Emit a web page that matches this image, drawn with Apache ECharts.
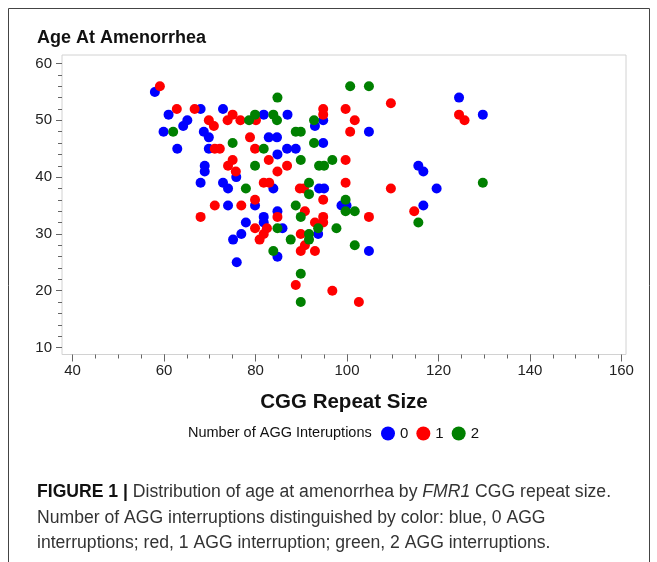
<!DOCTYPE html>
<html>
<head>
<meta charset="utf-8">
<script src="https://cdn.jsdelivr.net/npm/echarts@6/dist/echarts.min.js"></script>
<style>
html,body{margin:0;padding:0;background:#fff;}
#chart{width:657px;height:562px;}
</style>
</head>
<body>
<div id="chart"></div>
<script>
// ---- data ----
var groups = ['0', '1', '2'];
var xTickLabels = [40, 60, 80, 100, 120, 140, 160];
var yTickLabels = [10, 20, 30, 40, 50, 60];

// 0 AGG interruptions (blue)
var cgg0 = [58.0, 61.0, 65.1, 64.2, 59.9, 68.0, 72.9, 68.7, 69.8, 62.9, 69.8, 68.9, 68.9, 68.0, 72.9, 74.0, 75.8, 74.0, 77.9, 76.9, 75.1, 75.9,
            81.8, 87.0, 94.8, 93.0, 82.9, 84.7, 94.8, 86.9, 88.8, 84.8, 83.9, 93.9, 95.0, 79.9, 98.8, 99.9, 84.8, 81.8, 81.8, 85.9, 93.7, 84.8,
            124.5, 129.7, 104.8, 115.6, 116.7, 119.6, 116.7, 104.8];
var age0 = [55, 51, 50, 49, 48, 52, 52, 48, 47, 45, 45, 42, 41, 39, 39, 38, 40, 35, 32, 30, 29, 25,
            51, 51, 50, 49, 47, 47, 46, 45, 45, 44, 38, 38, 38, 35, 35, 35, 34, 33, 32, 31, 30, 26,
            54, 51, 48, 42, 41, 38, 35, 27];

// 1 AGG interruption (red)
var cgg1 = [59.1, 62.8, 66.7, 75.0, 69.8, 70.9, 73.9, 76.7, 78.8, 71.1, 72.2, 75.0, 74.0, 75.7, 71.1, 76.9, 68.0,
            80.1, 94.8, 94.8, 99.7, 101.7, 100.7, 79.9, 82.9, 86.9, 84.8, 99.7, 81.8, 83.0, 89.7, 90.6, 99.7, 79.9, 94.8,
            90.8, 84.8, 94.8, 94.8, 93.0, 79.9, 82.5, 81.8, 80.9, 89.9, 90.8, 89.9, 93.0, 88.8, 96.8, 102.6,
            109.6, 124.5, 125.7, 109.6, 114.7, 104.8];
var age1 = [56, 52, 52, 51, 50, 49, 50, 50, 47, 45, 45, 43, 42, 41, 35, 35, 33,
            50, 52, 51, 52, 50, 48, 45, 43, 42, 41, 43, 39, 39, 38, 38, 39, 36, 36,
            34, 33, 33, 32, 32, 31, 31, 30, 29, 30, 28, 27, 27, 21, 20, 18,
            53, 51, 50, 38, 34, 33];

// 2 AGG interruptions (green)
var cgg2 = [62.0, 75.0, 78.6, 79.9, 84.8, 83.9, 84.7, 92.8, 100.7, 104.8, 88.8, 89.9, 92.8, 81.8, 89.9, 79.9, 96.8, 93.9, 95.0,
            77.9, 91.7, 91.7, 88.8, 99.7, 99.7, 101.7, 89.9, 84.8, 93.7, 91.7, 97.7, 87.7, 91.7, 101.7, 83.9, 89.9, 89.9,
            115.6, 129.7];
var age2 = [48, 46, 50, 51, 54, 51, 50, 50, 56, 56, 48, 48, 46, 45, 43, 42, 43, 42, 42,
            38, 39, 37, 35, 36, 34, 34, 33, 31, 31, 30, 31, 29, 29, 28, 27, 23, 18,
            32, 39];

var colors = ['#0000ff', '#ff0000', '#008000'];

function zip(xs, ys) {
  var out = [];
  for (var i = 0; i < xs.length; i++) out.push([xs[i], ys[i]]);
  return out;
}
function range(a, b, s) {
  var out = [];
  for (var v = a; v <= b + 1e-9; v += s) out.push(v);
  return out;
}

var chart = echarts.init(document.getElementById('chart'), null, {renderer: 'canvas'});

var FONT = 'Liberation Sans, Arial, sans-serif';
var xMin = 37.7, xMax = 161.0, yMin = 8.77, yMax = 61.5;
var tickColor = '#666';
var labelStyle = {color: '#222', fontSize: 15, fontFamily: FONT};

var option = {
  animation: false,
  backgroundColor: '#fff',
  title: {
    text: 'Age At Amenorrhea',
    left: 37, top: 29, padding: 0,
    textStyle: {fontSize: 18, fontWeight: 'bold', color: '#111', fontFamily: FONT}
  },
  grid: {
    left: 62, right: 31, top: 55, bottom: 207.5,
    show: true, borderColor: '#d2d2d2', borderWidth: 1, backgroundColor: '#fff'
  },
  legend: {
    data: groups,
    left: 381, top: 426, padding: 0,
    icon: 'circle', itemWidth: 14, itemHeight: 14, itemGap: 8,
    textStyle: {fontSize: 15, color: '#111', fontFamily: FONT}
  },
  xAxis: [{
    type: 'value', min: xMin, max: xMax,
    name: 'CGG Repeat Size', nameLocation: 'middle', nameGap: 37,
    nameTextStyle: {fontSize: 20.5, fontWeight: 'bold', color: '#111', fontFamily: FONT},
    axisLine: {show: false},
    splitLine: {show: false},
    axisTick: {show: true, length: 7, lineStyle: {color: tickColor}, customValues: xTickLabels},
    axisLabel: Object.assign({margin: 9, customValues: xTickLabels}, labelStyle)
  }, {
    type: 'value', min: xMin, max: xMax, position: 'bottom',
    axisLine: {show: false}, splitLine: {show: false},
    axisLabel: {show: false},
    axisTick: {show: true, length: 4, lineStyle: {color: tickColor}, customValues: range(45, 155, 5)}
  }],
  yAxis: [{
    type: 'value', min: yMin, max: yMax,
    axisLine: {show: false},
    splitLine: {show: false},
    axisTick: {show: true, length: 6, lineStyle: {color: tickColor}, customValues: yTickLabels},
    axisLabel: Object.assign({margin: 10, customValues: yTickLabels}, labelStyle)
  }, {
    type: 'value', min: yMin, max: yMax, position: 'left',
    axisLine: {show: false}, splitLine: {show: false},
    axisLabel: {show: false},
    axisTick: {show: true, length: 4, lineStyle: {color: tickColor}, customValues: range(12, 58, 2)}
  }],
  series: [
    {name: '0', type: 'scatter', data: zip(cgg0, age0), symbolSize: 10, itemStyle: {color: colors[0], opacity: 1}},
    {name: '1', type: 'scatter', data: zip(cgg1, age1), symbolSize: 10, itemStyle: {color: colors[1], opacity: 1}},
    {name: '2', type: 'scatter', data: zip(cgg2, age2), symbolSize: 10, itemStyle: {color: colors[2], opacity: 1}}
  ],
  graphic: [
    {type: 'rect', shape: {x: 8.5, y: 8.5, width: 641, height: 600}, style: {fill: null, stroke: '#444', lineWidth: 1}, silent: true, z: -10},
    {type: 'text', left: 188, top: 425.5, style: {text: 'Number of AGG Interuptions', fontSize: 14.5, fill: '#111', fontFamily: FONT}},
    {type: 'text', left: 37, top: 483.5, style: {
      text: '{b|FIGURE 1 |} Distribution of age at amenorrhea by {i|FMR1} CGG repeat size.',
      fontSize: 17.6, fill: '#333', fontFamily: FONT,
      rich: {
        b: {fontWeight: 'bold', fontSize: 17.6, fill: '#111', fontFamily: FONT},
        i: {fontStyle: 'italic', fontSize: 17.6, fill: '#333', fontFamily: FONT}
      }
    }},
    {type: 'text', left: 37, top: 509, style: {text: 'Number of AGG interruptions distinguished by color: blue, 0 AGG', fontSize: 17.6, fill: '#333', fontFamily: FONT}},
    {type: 'text', left: 37, top: 534.5, style: {text: 'interruptions; red, 1 AGG interruption; green, 2 AGG interruptions.', fontSize: 17.6, fill: '#333', fontFamily: FONT}}
  ]
};
chart.setOption(option);
</script>
</body>
</html>
